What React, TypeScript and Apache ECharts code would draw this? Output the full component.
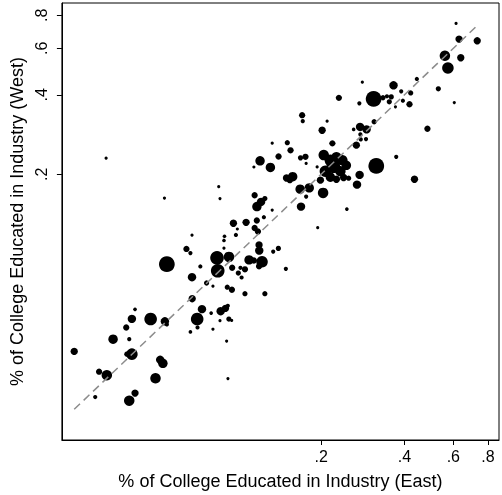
import React, { useEffect, useRef } from "react";
import * as echarts from "echarts";

// Share of college educated workers in each industry, East (x) and West (y)
const eastShare = [
  0.0257, 0.0355, 0.0415, 0.0485, 0.0426, 0.0396, 0.0406, 0.0415, 0.0398, 0.0316,
  0.0337, 0.0306, 0.0406, 0.0426, 0.0505, 0.0525, 0.0537, 0.0546, 0.0555, 0.0685,
  0.0743, 0.0714, 0.0675, 0.0716, 0.0802, 0.0922, 0.0335, 0.0544, 0.0684, 0.0653,
  0.0675, 0.0555, 0.0733, 0.0684, 0.0772, 0.0814, 0.0842, 0.0847, 0.0930, 0.0955,
  0.0863, 0.0854, 0.0896, 0.0892, 0.0892, 0.0985, 0.0997, 0.0965, 0.1072, 0.1172,
  0.1243, 0.1332, 0.1151, 0.1253, 0.1214, 0.1173, 0.1151, 0.1183, 0.1194, 0.1196,
  0.1099, 0.1144, 0.1224, 0.1194, 0.1343, 0.1402, 0.1492, 0.1023, 0.1062, 0.1005,
  0.1033, 0.0917, 0.0953, 0.1062, 0.1253, 0.0868, 0.0903, 0.0921, 0.0929, 0.0951,
  0.0863, 0.0814, 0.0912, 0.1717, 0.1708, 0.2102, 0.2017, 0.2196, 0.1332, 0.1510,
  0.1551, 0.1204, 0.1312, 0.1144, 0.1404, 0.1685, 0.1756, 0.1766, 0.1500, 0.1579,
  0.1542, 0.1680, 0.1812, 0.2033, 0.1766, 0.1692, 0.2477, 0.1944, 0.2514, 0.2044,
  0.2160, 0.2271, 0.2386, 0.2467, 0.2214, 0.2072, 0.2347, 0.2160, 0.1988, 0.2271,
  0.2411, 0.1935, 0.2817, 0.3650, 0.4431, 0.5297, 0.3891, 0.4210, 0.2318, 0.3094,
  0.3344, 0.3456, 0.3582, 0.3524, 0.3946, 0.4168, 0.2748, 0.3709, 0.6048, 0.3107,
  0.2764, 0.2918, 0.2621, 0.2771, 0.2904, 0.2780, 0.2680, 0.4838, 0.3163, 0.3733,
  0.2754, 0.2695, 0.4345, 0.6138, 0.6292, 0.7318, 0.5594, 0.6383, 0.5736,
];

const westShare = [
  0.0426, 0.0474, 0.0566, 0.0565, 0.0615, 0.0525, 0.0474, 0.0416, 0.0416, 0.0357,
  0.0346, 0.0286, 0.0277, 0.0296, 0.0337, 0.0396, 0.0384, 0.0554, 0.0539, 0.0675,
  0.0616, 0.0565, 0.0505, 0.0525, 0.0595, 0.0336, 0.2300, 0.1624, 0.1175, 0.1042,
  0.1005, 0.0912, 0.0894, 0.0814, 0.0774, 0.0753, 0.0964, 0.0861, 0.0972, 0.0884,
  0.1617, 0.1794, 0.1164, 0.1122, 0.1049, 0.1177, 0.1240, 0.1304, 0.1314, 0.1335,
  0.1374, 0.1463, 0.1664, 0.1617, 0.1571, 0.1508, 0.1251, 0.1213, 0.1079, 0.1027,
  0.0947, 0.0942, 0.0931, 0.0895, 0.1018, 0.1047, 0.0876, 0.0884, 0.0872, 0.0844,
  0.0812, 0.0746, 0.0730, 0.0705, 0.0705, 0.0605, 0.0620, 0.0634, 0.0565, 0.0558,
  0.0557, 0.0517, 0.0466, 0.3178, 0.3349, 0.3178, 0.2936, 0.2618, 0.2622, 0.2634,
  0.2464, 0.2248, 0.2122, 0.2130, 0.2334, 0.2307, 0.2328, 0.2197, 0.1935, 0.1957,
  0.1899, 0.1756, 0.1775, 0.1699, 0.1645, 0.1508, 0.1475, 0.1254, 0.1932, 0.2363,
  0.2258, 0.2318, 0.2258, 0.2162, 0.2144, 0.2053, 0.2053, 0.1949, 0.1899, 0.1915,
  0.1943, 0.2131, 0.4468, 0.4346, 0.4594, 0.4215, 0.4124, 0.4067, 0.3895, 0.3861,
  0.3898, 0.3949, 0.3928, 0.3762, 0.3798, 0.3684, 0.3712, 0.3602, 0.3738, 0.3162,
  0.3022, 0.2957, 0.2957, 0.2831, 0.2718, 0.2711, 0.2578, 0.2975, 0.2150, 0.2328,
  0.1988, 0.1826, 0.1915, 0.7460, 0.6504, 0.6408, 0.5624, 0.5527, 0.5058,
];

// Industry weight (marker area)
const employment = [
  49, 81, 64, 144, 12, 36, 16, 121, 25, 36,
  100, 16, 100, 49, 100, 64, 81, 64, 16, 49,
  64, 144, 12, 16, 12, 9, 9, 9, 9, 36,
  16, 225, 16, 64, 25, 9, 169, 169, 100, 36,
  9, 9, 12, 12, 9, 16, 9, 49, 49, 36,
  16, 9, 36, 25, 64, 81, 36, 36, 49, 64,
  81, 36, 121, 36, 16, 25, 16, 16, 36, 25,
  16, 25, 36, 25, 25, 64, 49, 16, 25, 9,
  9, 9, 9, 16, 36, 9, 49, 36, 9, 25,
  36, 81, 81, 9, 36, 25, 36, 9, 49, 81,
  36, 81, 81, 100, 16, 64, 12, 9, 25, 100,
  121, 100, 100, 81, 169, 121, 100, 81, 49, 49,
  49, 9, 9, 64, 16, 25, 16, 25, 36, 225,
  25, 16, 25, 25, 16, 36, 16, 9, 9, 25,
  64, 64, 12, 16, 16, 16, 49, 36, 225, 16,
  64, 64, 49, 9, 49, 49, 100, 49, 121,
];

const tickValues = [0.2, 0.4, 0.6, 0.8];
const xRange = [0.0232, 0.877];
const yRange = [0.01966, 0.8914];
const xTitle = "% of College Educated in Industry (East)";
const yTitle = "% of College Educated in Industry (West)";

const FONT = "'Liberation Sans', Arial, Helvetica, sans-serif";

export default function App() {
  const ref = useRef<HTMLDivElement>(null);
  useEffect(() => {
    const chart = echarts.init(ref.current!, null, { renderer: "svg" });
    const lg = (v: number) => Math.log10(v);
    const points = eastShare.map((x, i) => [lg(x), lg(westShare[i]), employment[i]]);
    const lo = Math.min(...eastShare);
    const hi = Math.max(...eastShare);
    const fmt = (v: number) => {
      const r = Math.round(Math.pow(10, v) * 10) / 10;
      return String(r).replace(/^0/, "");
    };
    const ticks = tickValues.map(lg);
    chart.setOption({
      animation: false,
      grid: { left: 61, top: 3, right: 3, bottom: 53, show: true, borderColor: "#000", borderWidth: 1 },
      xAxis: {
        type: "value",
        min: lg(xRange[0]),
        max: lg(xRange[1]),
        splitLine: { show: false },
        axisLine: { show: true, onZero: false, lineStyle: { color: "#000", width: 1 } },
        axisTick: { show: true, length: 5, customValues: ticks, lineStyle: { color: "#000" } },
        axisLabel: { customValues: ticks, formatter: fmt, color: "#000", fontSize: 16, fontFamily: FONT, margin: 8 },
        name: xTitle,
        nameLocation: "middle",
        nameGap: 32,
        nameTextStyle: { color: "#000", fontSize: 18, fontFamily: FONT },
      },
      yAxis: {
        type: "value",
        min: lg(yRange[0]),
        max: lg(yRange[1]),
        splitLine: { show: false },
        axisLine: { show: true, onZero: false, lineStyle: { color: "#000", width: 1 } },
        axisTick: { show: true, length: 5, customValues: ticks, lineStyle: { color: "#000" } },
        axisLabel: { customValues: ticks, formatter: fmt, color: "#000", fontSize: 16, fontFamily: FONT, margin: 12, rotate: 90 },
        name: yTitle,
        nameLocation: "middle",
        nameGap: 32,
        nameRotate: 90,
        nameTextStyle: { color: "#000", fontSize: 18, fontFamily: FONT },
      },
      series: [
        {
          type: "scatter",
          data: points,
          symbolSize: (v: number[]) => Math.sqrt(v[2]) * 1.05,
          itemStyle: { color: "#000", opacity: 1 },
          z: 2,
        },
        {
          type: "line",
          data: [[lg(lo), lg(lo)], [lg(hi), lg(hi)]],
          symbol: "none",
          lineStyle: { color: "#8c8c8c", width: 1.5, type: [8, 5] },
          z: 3,
        },
      ],
    });
    return () => chart.dispose();
  }, []);
  return <div ref={ref} style={{ position: "fixed", left: 0, top: 0, width: 502, height: 495 }} />;
}
